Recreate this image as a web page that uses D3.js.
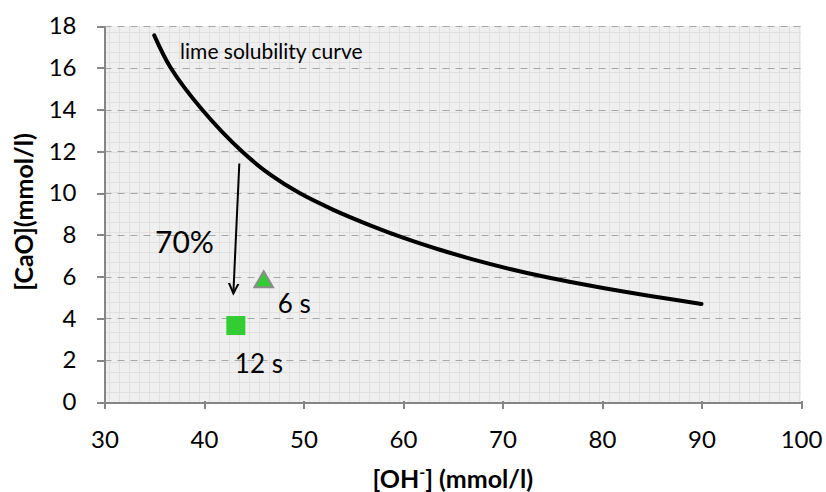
<!doctype html>
<html>
<head>
<meta charset="utf-8">
<title>Lime solubility curve</title>
<script src="https://d3js.org/d3.v7.min.js"></script>
<style>
  body { margin: 0; background: #fff; }
  svg text { font-family: Lato, "Open Sans", sans-serif; fill: #000; }
  .axis path, .axis line { stroke: #868686; stroke-width: 2; shape-rendering: crispEdges; }
  .axis text { font-size: 24px; }
</style>
</head>
<body>
<div id="chart"></div>
<script>
// values
var curveX = [35, 36.65, 39.8, 43.8, 46.7, 49.6, 53, 56.7, 60, 63.7, 67, 70.75, 74, 77.8, 82, 86, 90];
var curveY = [17.55, 16, 14, 12, 10.87, 10.0, 9.2, 8.46, 7.87, 7.29, 6.83, 6.37, 6.02, 5.66, 5.3, 4.99, 4.69];
var pointLabels = ["6 s", "12 s"];
var pointX = [46.0, 43.2];
var pointY = [5.75, 3.66];
var arrowX = [43.55, 42.95];
var arrowY = [11.42, 5.2];
var xTicks = [30, 40, 50, 60, 70, 80, 90, 100];
var yTicks = [0, 2, 4, 6, 8, 10, 12, 14, 16, 18];

var width = 826, height = 492;
var margin = {top: 26, right: 25, bottom: 90, left: 104.5};
var w = width - margin.left - margin.right,
    h = height - margin.top - margin.bottom;

var svg = d3.select("#chart").append("svg")
  .attr("width", width)
  .attr("height", height);

var defs = svg.append("defs");
var pat = defs.append("pattern")
  .attr("id", "bgpat")
  .attr("patternUnits", "userSpaceOnUse")
  .attr("width", 10).attr("height", 10)
  .attr("x", margin.left).attr("y", margin.top);
pat.append("rect").attr("width", 10).attr("height", 10).attr("fill", "#efefef");
pat.append("path").attr("d", "M0,0.5H10M0.5,0V10").attr("stroke", "#e0e0e0").attr("stroke-width", 1);

var x = d3.scaleLinear().domain([30, 100]).range([0, w]);
var y = d3.scaleLinear().domain([0, 18]).range([h, 0]);

var g = svg.append("g").attr("transform", "translate(" + margin.left + "," + margin.top + ")");

g.append("rect").attr("width", w).attr("height", h).attr("fill", "url(#bgpat)");

// dashed horizontal grid
g.append("g").selectAll("line")
  .data(yTicks.filter(function(d){ return d > 0; }))
  .enter().append("line")
    .attr("x1", 0).attr("x2", w)
    .attr("y1", function(d){ return Math.round(y(d)) + 0.5; })
    .attr("y2", function(d){ return Math.round(y(d)) + 0.5; })
    .attr("stroke", "#a6a6a6")
    .attr("stroke-width", 1.2)
    .attr("stroke-dasharray", "7,6");

// axes
var xAxis = g.append("g").attr("class", "axis")
  .attr("transform", "translate(0," + h + ")")
  .call(d3.axisBottom(x).tickValues(xTicks).tickSize(8).tickSizeOuter(0).tickPadding(21));
xAxis.selectAll("line").attr("transform", "translate(0,-1)");

var yAxis = g.append("g").attr("class", "axis")
  .call(d3.axisLeft(y).tickValues(yTicks).tickSize(8).tickSizeOuter(0).tickPadding(20));

// lime solubility curve
var pts = curveX.map(function(d, i){ return [d, curveY[i]]; });
var line = d3.line()
  .x(function(d){ return x(d[0]); })
  .y(function(d){ return y(d[1]); })
  .curve(d3.curveCatmullRom.alpha(0.5));
g.append("path")
  .datum(pts)
  .attr("d", line)
  .attr("fill", "none")
  .attr("stroke", "#000")
  .attr("stroke-width", 4)
  .attr("stroke-linecap", "round");

g.append("text")
  .attr("x", x(37.6)).attr("y", y(16.41))
  .style("font-size", "21px")
  .text("lime solubility curve");

// arrow
defs.append("marker")
  .attr("id", "arrowhead")
  .attr("viewBox", "0 0 20 20")
  .attr("refX", 10).attr("refY", 10)
  .attr("markerWidth", 20).attr("markerHeight", 20)
  .attr("markerUnits", "userSpaceOnUse")
  .attr("orient", "auto")
  .append("path")
    .attr("d", "M-7,2L10,10L-7,18")
    .attr("fill", "none")
    .attr("stroke", "#000")
    .attr("stroke-width", 2);

g.append("line")
  .attr("x1", x(arrowX[0])).attr("y1", y(arrowY[0]))
  .attr("x2", x(arrowX[1])).attr("y2", y(arrowY[1]))
  .attr("stroke", "#000")
  .attr("stroke-width", 2)
  .attr("marker-end", "url(#arrowhead)");

g.append("text")
  .attr("x", x(35.08)).attr("y", y(7.13))
  .style("font-size", "30px")
  .text("70%");

// data points
g.append("path")
  .attr("transform", "translate(" + x(pointX[0]) + "," + y(pointY[0]) + ")")
  .attr("d", d3.symbol().type(d3.symbolTriangle).size(150))
  .attr("fill", "#33cc33")
  .attr("stroke", "#8c8c8c")
  .attr("stroke-width", 2);

var sq = 19;
g.append("rect")
  .attr("x", x(pointX[1]) - sq / 2).attr("y", y(pointY[1]) - sq / 2)
  .attr("width", sq).attr("height", sq)
  .attr("fill", "#33cc33");

g.append("text")
  .attr("x", x(pointX[0]) + 14).attr("y", y(pointY[0]) + 31)
  .style("font-size", "26px")
  .text(pointLabels[0]);
g.append("text")
  .attr("x", x(pointX[1]) - 1).attr("y", y(pointY[1]) + 47)
  .style("font-size", "26px")
  .text(pointLabels[1]);

// axis titles
var xt = svg.append("text")
  .attr("x", margin.left + w / 2).attr("y", 488)
  .attr("text-anchor", "middle")
  .style("font-size", "25px")
  .style("font-weight", "bold");
xt.append("tspan").text("[OH");
xt.append("tspan").attr("dy", "-10").style("font-size", "16px").text("-");
xt.append("tspan").attr("dy", "10").text("] (mmol/l)");

svg.append("text")
  .attr("transform", "translate(33,212) rotate(-90)")
  .attr("text-anchor", "middle")
  .style("font-size", "25px")
  .style("font-weight", "bold")
  .text("[CaO](mmol/l)");
</script>
</body>
</html>
